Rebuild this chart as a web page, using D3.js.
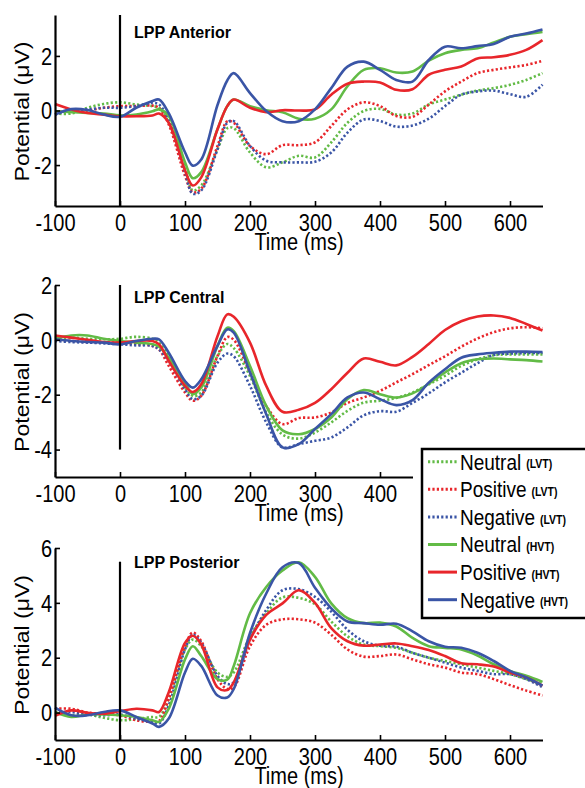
<!DOCTYPE html>
<html>
<head>
<meta charset="utf-8">
<script src="https://cdn.jsdelivr.net/npm/d3@7"></script>
<style>
  body { margin: 0; background: #fff; }
  text { font-family: Arial, "Liberation Sans", sans-serif; fill: #000; }
</style>
</head>
<body>
<svg id="chart"></svg>
<script>
// sample times (ms), shared by every curve
var times = [-100,-75,-50,-25,0,25,50,60,75,100,112,125,150,165,175,200,225,250,275,300,325,350,375,400,425,450,475,500,525,550,575,600,625,650];

// LPP Anterior
var antNeuLVT = [-0.11,-0.11,0.1,0.24,0.3,0.22,0.16,0.1,-0.45,-2.08,-2.93,-2.75,-1.42,-0.65,-0.65,-1.54,-2.08,-1.9,-1.66,-1.72,-1.17,-0.45,-0.02,0.06,-0.15,-0.11,0.22,0.4,0.58,0.73,0.82,0.94,1.12,1.37];
var antPosLVT = [-0.03,-0.03,0.0,0.1,0.16,0.16,0.18,0.1,-0.51,-2.39,-3.0,-2.87,-1.3,-0.4,-0.45,-1.3,-1.6,-1.27,-1.27,-1.17,-0.57,0.04,0.3,0.16,-0.2,-0.23,0.22,0.7,1.06,1.37,1.49,1.58,1.67,1.82];
var antNegLVT = [-0.15,0.02,0.04,0.1,0.1,0.16,0.28,0.22,-0.33,-2.26,-3.05,-2.93,-1.42,-0.45,-0.39,-1.3,-1.84,-1.9,-1.9,-1.88,-1.54,-0.81,-0.33,-0.39,-0.59,-0.55,-0.3,0.16,0.58,0.7,0.73,0.6,0.5,0.95];
var antNeuHVT = [-0.03,-0.06,-0.09,-0.11,-0.18,-0.15,-0.03,0.04,-0.2,-1.9,-2.48,-2.26,-0.69,0.16,0.4,0.16,0.01,-0.06,-0.3,-0.3,0.04,0.89,1.49,1.55,1.39,1.43,1.83,2.1,2.22,2.28,2.49,2.7,2.8,2.88];
var antPosHVT = [0.24,0.04,-0.09,-0.15,-0.21,-0.21,-0.18,-0.11,-0.45,-2.2,-2.75,-2.45,-0.69,0.16,0.4,0.1,-0.06,0.01,0.0,0.04,0.58,0.98,1.06,1.03,0.76,0.78,1.31,1.49,1.61,1.91,1.95,2.04,2.22,2.58];
var antNegHVT = [-0.15,0.05,0.02,-0.15,-0.23,0.1,0.35,0.4,-0.1,-1.53,-2.02,-1.8,0.2,1.1,1.37,0.64,-0.02,-0.39,-0.39,0.04,0.82,1.61,1.79,1.49,1.12,1.06,1.85,2.34,2.28,2.36,2.44,2.7,2.82,2.97];

// LPP Central
var cenNeuLVT = [0.04,0.08,0.04,0.02,0.04,0.11,0.04,-0.1,-0.59,-1.74,-2.04,-1.92,-0.59,-0.15,-0.3,-1.32,-2.65,-3.45,-3.6,-3.38,-3.01,-2.59,-2.29,-2.22,-2.12,-1.92,-1.62,-1.31,-0.95,-0.71,-0.56,-0.53,-0.53,-0.53];
var cenPosLVT = [0.02,-0.04,-0.08,-0.1,-0.1,-0.16,-0.22,-0.35,-0.95,-1.92,-2.22,-2.04,-0.59,0.1,0.0,-1.19,-2.41,-3.07,-2.85,-2.83,-2.65,-2.3,-2.1,-1.86,-1.55,-1.25,-0.92,-0.6,-0.25,0.05,0.28,0.42,0.46,0.42];
var cenNegLVT = [-0.04,-0.08,-0.1,-0.13,-0.16,-0.2,-0.22,-0.35,-0.77,-1.8,-2.16,-2.04,-0.83,-0.5,-0.6,-1.68,-3.01,-3.92,-3.8,-3.68,-3.56,-3.19,-2.75,-2.6,-2.62,-2.3,-1.95,-1.55,-1.2,-0.85,-0.55,-0.5,-0.48,-0.48];
var cenNeuHVT = [0.04,0.16,0.16,0.04,-0.04,-0.1,-0.16,-0.25,-0.65,-1.56,-1.98,-1.74,-0.22,0.44,0.32,-0.95,-2.41,-3.3,-3.44,-3.25,-2.83,-2.16,-1.83,-1.98,-2.1,-1.95,-1.6,-1.19,-0.85,-0.71,-0.68,-0.71,-0.74,-0.79];
var cenPosHVT = [0.16,0.08,0.0,-0.08,-0.1,-0.04,-0.04,-0.16,-0.77,-1.68,-1.9,-1.62,0.13,0.93,0.84,-0.1,-1.68,-2.62,-2.55,-2.3,-1.8,-1.2,-0.68,-0.8,-0.93,-0.62,-0.15,0.36,0.68,0.85,0.89,0.8,0.58,0.34];
var cenNegHVT = [0.02,-0.04,-0.08,-0.1,-0.16,-0.04,0.04,0.02,-0.47,-1.5,-1.74,-1.44,-0.22,0.38,0.26,-1.19,-2.71,-3.92,-3.8,-3.25,-2.71,-2.1,-1.92,-2.16,-2.38,-2.2,-1.56,-1.07,-0.65,-0.53,-0.47,-0.43,-0.43,-0.44];

// LPP Posterior
var posNeuLVT = [0.0,-0.1,-0.07,-0.19,-0.28,-0.24,-0.16,-0.16,0.5,2.3,2.66,2.42,1.46,1.3,1.46,2.78,3.62,4.2,4.18,3.95,3.32,2.78,2.48,2.42,2.36,2.18,2.0,1.88,1.76,1.64,1.52,1.4,1.22,1.04];
var posPosLVT = [0.14,0.14,0.0,-0.04,-0.1,-0.28,-0.34,-0.31,0.5,2.42,2.92,2.6,1.22,0.86,0.92,2.42,3.2,3.4,3.4,3.28,2.84,2.3,2.04,2.06,2.12,1.94,1.76,1.64,1.46,1.4,1.22,1.0,0.8,0.62];
var posNegLVT = [0.0,0.02,-0.07,-0.1,-0.07,-0.22,-0.34,-0.4,0.26,2.3,2.84,2.54,1.34,1.04,1.1,2.66,3.74,4.46,4.5,4.22,3.68,3.02,2.6,2.44,2.4,2.18,2.0,1.82,1.64,1.52,1.4,1.4,1.22,0.92];
var posNeuHVT = [0.02,-0.16,-0.07,-0.07,-0.1,-0.16,-0.28,-0.34,0.14,1.94,2.42,2.06,1.22,1.2,1.7,3.62,4.58,5.18,5.48,4.95,3.98,3.44,3.26,3.28,3.14,2.72,2.42,2.36,2.3,2.08,1.76,1.52,1.34,1.12];
var posPosHVT = [-0.12,0.08,-0.01,-0.04,0.05,0.14,0.08,0.02,0.74,2.54,2.8,2.48,0.92,0.82,1.1,2.66,3.56,3.98,4.46,4.0,3.08,2.6,2.44,2.48,2.52,2.42,2.28,2.06,1.8,1.76,1.68,1.46,1.28,0.98];
var posNegHVT = [0.18,-0.1,-0.1,0.02,0.08,-0.16,-0.4,-0.52,-0.22,1.46,1.96,1.7,0.62,0.55,0.86,2.9,4.34,5.3,5.45,4.55,3.8,3.32,3.26,3.2,3.24,2.96,2.6,2.4,2.36,2.18,1.88,1.52,1.28,0.98];

var legendNames = ["Neutral", "Positive", "Negative", "Neutral", "Positive", "Negative"];
var legendTags = ["(LVT)", "(LVT)", "(LVT)", "(HVT)", "(HVT)", "(HVT)"];
var colors = ["#62bb46", "#e8262b", "#3a55a6", "#62bb46", "#e8262b", "#3a55a6"];
var dotted = [true, true, true, false, false, false];

var width = 585, height = 788;
var stretch = 1.15; // the source image is a bit taller than wide

var panels = [
  { title: "LPP Anterior", titleY: 38, top: 15, bottom: 206, yDomain: [-3.5, 3.5], yTicks: [-2, 0, 2],
    xEnd: 650, xTicks: [-100, 0, 100, 200, 300, 400, 500, 600], zeroLine: [-3.5, 3.5],
    series: [antNeuLVT, antPosLVT, antNegLVT, antNeuHVT, antPosHVT, antNegHVT] },
  { title: "LPP Central", titleY: 303, top: 285, bottom: 477, yDomain: [-5, 2], yTicks: [-4, -2, 0, 2],
    xEnd: 450, xTicks: [-100, 0, 100, 200, 300, 400], zeroLine: [-4, 2],
    series: [cenNeuLVT, cenPosLVT, cenNegLVT, cenNeuHVT, cenPosHVT, cenNegHVT] },
  { title: "LPP Posterior", titleY: 568, top: 548, bottom: 740, yDomain: [-1, 6], yTicks: [0, 2, 4, 6],
    xEnd: 650, xTicks: [-100, 0, 100, 200, 300, 400, 500, 600], zeroLine: [-1, 5.5],
    series: [posNeuLVT, posPosLVT, posNegLVT, posNeuHVT, posPosHVT, posNegHVT] }
];

// plain hyphen minus, no decimals, like the matlab figure
function fmt(d) { return String(d); }

var svg = d3.select("#chart")
    .attr("width", width)
    .attr("height", height);

var x = d3.scaleLinear()
    .domain([-100, 650])
    .range([55, 542.5]);

panels.forEach(function(p) {
  var y = d3.scaleLinear()
      .domain(p.yDomain)
      .range([p.bottom, p.top]);

  var xa = d3.scaleLinear()
      .domain([-100, p.xEnd])
      .range([x(-100), x(p.xEnd)]);

  var g = svg.append("g");

  // curves
  var line = d3.line()
      .x(function(d) { return x(d[0]); })
      .y(function(d) { return y(d[1]); })
      .curve(d3.curveCatmullRom.alpha(0.5));

  p.series.forEach(function(vals, i) {
    var pts = times.map(function(t, k) { return [t, vals[k]]; });
    g.append("path")
        .datum(pts)
        .attr("d", line)
        .attr("fill", "none")
        .attr("stroke", colors[i])
        .attr("stroke-width", 2.6)
        .attr("stroke-dasharray", dotted[i] ? "2.2,2.2" : null);
  });

  // axes, ticks pointing inward like matlab
  var xAxis = d3.axisBottom(xa)
      .tickValues(p.xTicks)
      .tickFormat(fmt)
      .tickSize(-5)
      .tickSizeOuter(0);
  var gx = g.append("g")
      .attr("transform", "translate(0," + p.bottom + ")")
      .call(xAxis);
  gx.select(".domain").attr("stroke-width", 2.2);
  gx.selectAll(".tick line").attr("stroke-width", 1.6);
  gx.selectAll(".tick text")
      .attr("y", null).attr("dy", null)
      .attr("font-size", 20)
      .attr("font-family", "Arial, 'Liberation Sans', sans-serif")
      .attr("transform", "translate(0,24.5) scale(1," + stretch + ")");

  var yAxis = d3.axisLeft(y)
      .tickValues(p.yTicks)
      .tickFormat(fmt)
      .tickSize(-5)
      .tickSizeOuter(0);
  var gy = g.append("g")
      .attr("transform", "translate(" + x(-100) + ",0)")
      .call(yAxis);
  gy.select(".domain").attr("stroke-width", 2.2);
  gy.selectAll(".tick line").attr("stroke-width", 1.6);
  gy.selectAll(".tick text")
      .attr("x", null).attr("dy", null)
      .attr("font-size", 20)
      .attr("font-family", "Arial, 'Liberation Sans', sans-serif")
      .attr("transform", "translate(-3,8.2) scale(1," + stretch + ")");

  // stimulus onset line
  g.append("line")
      .attr("x1", x(0)).attr("x2", x(0))
      .attr("y1", y(p.zeroLine[1])).attr("y2", y(p.zeroLine[0]))
      .attr("stroke", "#000")
      .attr("stroke-width", 2.2);

  g.append("text")
      .attr("x", 134)
      .attr("y", p.titleY)
      .attr("font-size", 16)
      .attr("font-weight", "bold")
      .text(p.title);

  g.append("text")
      .attr("text-anchor", "middle")
      .attr("font-size", 20)
      .attr("transform", "translate(299," + (p.bottom + 44) + ") scale(1," + stretch + ")")
      .text("Time (ms)");

  g.append("text")
      .attr("text-anchor", "middle")
      .attr("font-size", 20)
      .attr("transform", "translate(29," + ((p.top + p.bottom) / 2 + 1) + ") rotate(-90) scale(1.15,1)")
      .text("Potential (\u03BCV)");
});

// legend
var leg = svg.append("g");
leg.append("rect")
    .attr("x", 422).attr("y", 449)
    .attr("width", 175).attr("height", 169)
    .attr("fill", "#fff")
    .attr("stroke", "#000")
    .attr("stroke-width", 2.5);

legendNames.forEach(function(name, i) {
  var cy = 461.7 + i * 27.6;
  leg.append("line")
      .attr("x1", 428).attr("x2", 457)
      .attr("y1", cy).attr("y2", cy)
      .attr("stroke", colors[i])
      .attr("stroke-width", 3)
      .attr("stroke-dasharray", dotted[i] ? "2.2,2.2" : null);
  var t = leg.append("text")
      .attr("font-size", 19)
      .attr("transform", "translate(460," + (cy + 7.8) + ") scale(1," + stretch + ")");
  t.append("tspan").text(name);
  t.append("tspan")
      .attr("dx", 5)
      .attr("dy", -1)
      .attr("font-size", 10.5)
      .attr("font-weight", "bold")
      .text(legendTags[i]);
});
</script>
</body>
</html>
